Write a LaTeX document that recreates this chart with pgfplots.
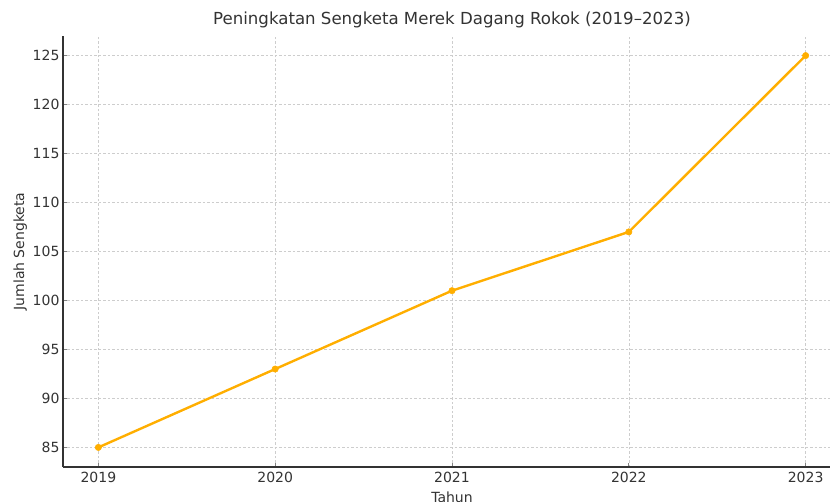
\documentclass[border=0pt]{standalone}
\usepackage{fontspec}
\setmainfont{DejaVu Sans}
\usepackage{pgfplots}
\pgfplotsset{compat=1.18}
\definecolor{lineorange}{RGB}{255,174,0}
\definecolor{txt}{RGB}{51,51,51}
\definecolor{gridc}{RGB}{205,205,205}
\definecolor{tickc}{RGB}{130,130,130}
\begin{document}
\begin{tikzpicture}
\begin{axis}[
  scale only axis,
  width=778pt, height=431pt,
  xmin=2018.8, xmax=2023.2,
  ymin=83, ymax=127,
  axis lines=left,
  axis line style={-, draw=txt, line width=1.1pt},
  xtick={2019,2020,2021,2022,2023},
  ytick={85,90,95,100,105,110,115,120,125},
  /pgf/number format/assume math mode=true,
  x tick label style={/pgf/number format/1000 sep={}, yshift=-1.5pt},
  ticklabel style={font=\fontsize{14}{16}\selectfont, text=txt},
  tick style={draw=tickc, line width=0.8pt},
  tick align=inside,
  major tick length=4pt,
  grid=major,
  major grid style={draw=gridc, line width=0.6pt, dash pattern=on 2.5pt off 2pt},
  xlabel={Tahun},
  ylabel={Jumlah Sengketa},
  label style={font=\fontsize{14}{16}\selectfont, text=txt},
  xlabel style={at={(axis description cs:0.5,-0.0812)}, anchor=base},
  ylabel style={at={(axis description cs:-0.0501,0.5)}, anchor=base, rotate=0},
  title={Peningkatan Sengketa Merek Dagang Rokok (2019–2023)},
  title style={font=\fontsize{16.6}{20}\selectfont, text=txt, at={(axis description cs:0.5,1)}, anchor=base, yshift=6pt},
  clip=false,
]
\addplot[color=lineorange, line width=2.4pt, mark=*, mark size=3.2pt, mark options={fill=lineorange, draw=lineorange, line width=0.5pt}]
  coordinates {(2019,85) (2020,93) (2021,101) (2022,107) (2023,125)};
\coordinate (O) at (rel axis cs:0,0);
\end{axis}
\pgfresetboundingbox
\path (O) ++(-63pt,-34pt) rectangle ++(830pt,501pt);
\end{tikzpicture}
\end{document}
